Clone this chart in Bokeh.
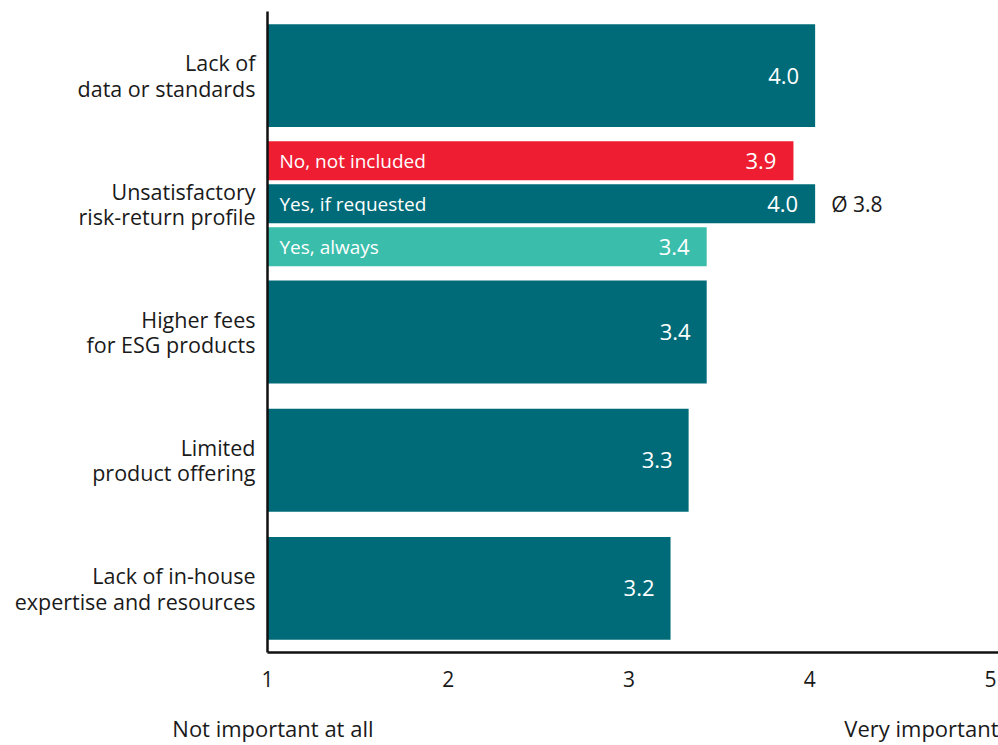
from bokeh.plotting import figure
from bokeh.models import ColumnDataSource, Range1d, FixedTicker, LinearAxis
from bokeh.core.properties import value
from bokeh.embed import file_html
from bokeh.resources import INLINE

# ---- data ----
categories = [
    "Lack of\ndata or standards",
    "Unsatisfactory\nrisk-return profile",
    "Higher fees\nfor ESG products",
    "Limited\nproduct offering",
    "Lack of in-house\nexpertise and resources",
]
main_values = [4.03, None, 3.43, 3.33, 3.23]   # None = split into sub-groups
sub_labels = ["No, not included", "Yes, if requested", "Yes, always"]
sub_values = [3.91, 4.03, 3.43]
sub_average = 3.8
x_ticks = [1, 2, 3, 4, 5]
scale_labels = {1.03: "Not important at all", 4.635: "Very important"}

TEAL = "#006B78"
RED = "#EE1D32"
LIGHT = "#3ABDAB"
FONT = "Open Sans"
TXT = "#1a1a1a"

p = figure(width=998, height=745, output_backend="svg", toolbar_location=None,
           x_range=Range1d(1, 5.0445), y_range=Range1d(4.5, -0.5),
           min_border_left=267, min_border_right=0, min_border_top=11,
           min_border_bottom=93)
p.outline_line_color = None
p.grid.visible = False
p.background_fill_color = "white"

# main bars
mi = [i for i, v in enumerate(main_values) if v is not None]
main_src = ColumnDataSource(dict(
    y=mi, right=[main_values[i] for i in mi],
    lab=[f"{main_values[i]:.1f}" for i in mi]))
p.hbar(y="y", left=1, right="right", height=0.803, source=main_src,
       fill_color=TEAL, line_color=None)
p.text(x="right", y="y", text="lab", source=main_src, x_offset=-16,
       text_align="right", text_baseline="middle", text_color="white",
       text_font=value(FONT), text_font_size="22px")

# sub bars for category 1
sub_cat = 1
offsets = [-0.3355, 0.0, 0.3355]
sub_src = ColumnDataSource(dict(
    y=[sub_cat + o for o in offsets], right=sub_values,
    color=[RED, TEAL, LIGHT], name=sub_labels,
    lab=[f"{v:.1f}" for v in sub_values]))
p.hbar(y="y", left=1, right="right", height=0.304, source=sub_src,
       fill_color="color", line_color=None)
p.text(x=1, y="y", text="name", source=sub_src, x_offset=12,
       text_align="left", text_baseline="middle", text_color="white",
       text_font=value(FONT), text_font_size="19px")
p.text(x="right", y="y", text="lab", source=sub_src, x_offset=-17,
       text_align="right", text_baseline="middle", text_color="white",
       text_font=value(FONT), text_font_size="22px")
p.text(x=[max(sub_values)], y=[sub_cat], text=[f"Ø {sub_average:.1f}"],
       x_offset=16, text_align="left", text_baseline="middle",
       text_color=TXT, text_font=value(FONT), text_font_size="21px")

# axes
p.yaxis.ticker = FixedTicker(ticks=list(range(len(categories))))
p.yaxis.major_label_overrides = {i: c for i, c in enumerate(categories)}
p.yaxis.major_tick_line_color = None
p.yaxis.minor_tick_line_color = None
p.yaxis.axis_line_width = 2.5
p.yaxis.axis_line_color = "#111111"
p.yaxis.major_label_standoff = 6
p.yaxis.major_label_text_font = FONT
p.yaxis.major_label_text_font_size = "21.5px"
p.yaxis.major_label_text_color = TXT
p.yaxis.major_label_text_line_height = 0.88

p.xaxis.ticker = FixedTicker(ticks=x_ticks)
p.xaxis.major_tick_line_color = None
p.xaxis.minor_tick_line_color = None
p.xaxis.axis_line_width = 2.5
p.xaxis.axis_line_color = "#111111"
p.xaxis.major_label_standoff = 12
p.xaxis.major_label_text_font = FONT
p.xaxis.major_label_text_font_size = "21px"
p.xaxis.major_label_text_color = TXT

scale_axis = LinearAxis(ticker=FixedTicker(ticks=list(scale_labels.keys())),
                        major_label_overrides=scale_labels,
                        axis_line_color=None, major_tick_line_color=None,
                        minor_tick_line_color=None, major_label_standoff=17,
                        major_label_text_font=FONT,
                        major_label_text_font_size="22px",
                        major_label_text_color=TXT)
p.add_layout(scale_axis, "below")

open("out.html", "w").write(file_html(p, INLINE))
